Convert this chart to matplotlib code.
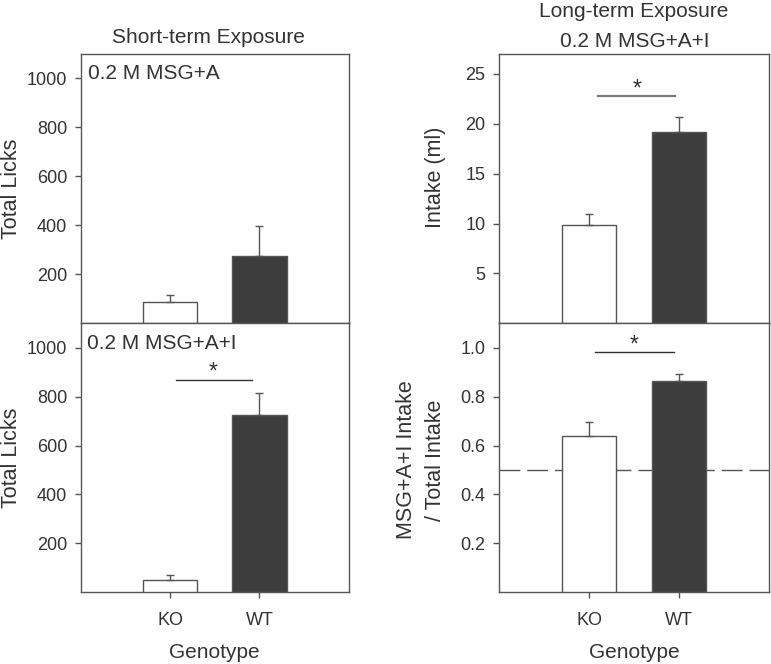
import matplotlib
matplotlib.use("Agg")
import matplotlib.pyplot as plt

# data
genotypes = ["KO", "WT"]
licks_msg_a = [87, 273]
licks_msg_a_err = [29, 124]
licks_msg_ai = [50, 725]
licks_msg_ai_err = [20, 90]
intake_ml = [9.82, 19.18]
intake_ml_err = [1.1, 1.53]
pref_ratio = [0.641, 0.865]
pref_ratio_err = [0.054, 0.026]

plt.rcParams['font.family'] = ['Liberation Sans', 'DejaVu Sans']
TXT = '#333333'
EDGE = '#555555'
bar_colors = ['white', '#3d3d3d']

W, H = 771, 664
fig = plt.figure(figsize=(W / 100, H / 100), dpi=100)


def px_axes(x0, x1, ytop, ybot):
    return fig.add_axes([x0 / W, (H - ybot) / H, (x1 - x0) / W, (ybot - ytop) / H])


ax_tl = px_axes(81, 348.7, 54, 323.3)
ax_bl = px_axes(81, 348.7, 323.3, 592.3)
ax_tr = px_axes(499.3, 768.7, 54, 323.3)
ax_br = px_axes(499.3, 768.7, 323.3, 592.3)

xpos = [1, 2]


def draw_bars(ax, vals, errs, ymax, yticks, ytl, bottom):
    ax.bar(xpos, vals, width=0.61, color=bar_colors, edgecolor=EDGE, linewidth=1.0, zorder=3)
    ax.errorbar(xpos, vals, yerr=[[0, 0], errs], fmt='none', ecolor=EDGE,
                elinewidth=1.0, capsize=3, capthick=1.0, zorder=4)
    ax.set_xlim(0, 3)
    ax.set_ylim(0, ymax)
    ax.set_yticks(yticks)
    ax.set_yticklabels(ytl)
    for s in ax.spines.values():
        s.set_color(EDGE)
        s.set_linewidth(1.0)
    ax.tick_params(axis='y', direction='out', length=4, width=1, color=EDGE,
                   labelsize=13, labelcolor=TXT, pad=6)
    if bottom:
        ax.set_xticks(xpos)
        ax.set_xticklabels(genotypes)
        ax.tick_params(axis='x', direction='out', length=4, width=1, color=EDGE,
                       labelsize=13, labelcolor=TXT, pad=10)
    else:
        ax.set_xticks([])


draw_bars(ax_tl, licks_msg_a, licks_msg_a_err, 1100,
          [200, 400, 600, 800, 1000], ['200', '400', '600', '800', '1000'], False)
draw_bars(ax_bl, licks_msg_ai, licks_msg_ai_err, 1100,
          [200, 400, 600, 800, 1000], ['200', '400', '600', '800', '1000'], True)
draw_bars(ax_tr, intake_ml, intake_ml_err, 27,
          [5, 10, 15, 20, 25], ['5', '10', '15', '20', '25'], False)
draw_bars(ax_br, pref_ratio, pref_ratio_err, 1.1,
          [0.2, 0.4, 0.6, 0.8, 1.0], ['0.2', '0.4', '0.6', '0.8', '1.0'], True)

# 50% line
ax_br.axhline(0.5, color=EDGE, linewidth=1.0, dashes=(15, 5), zorder=1)

# significance bars
ax_bl.plot([1.06, 1.92], [870, 870], color='#333333', lw=1.0)
ax_bl.text(1.48, 873, '*', ha='center', va='baseline', fontsize=16.5, color=TXT)
ax_tr.plot([1.10, 1.96], [22.8, 22.8], color='#7a7a7a', lw=1.6)
ax_tr.text(1.53, 22.87, '*', ha='center', va='baseline', fontsize=16.5, color=TXT)
ax_br.plot([1.07, 1.94], [0.981, 0.981], color='#333333', lw=1.0)
ax_br.text(1.5, 0.983, '*', ha='center', va='baseline', fontsize=16.5, color=TXT)

# panel labels
ax_tl.text(0.026, 0.907, '0.2 M MSG+A', transform=ax_tl.transAxes,
           ha='left', va='baseline', fontsize=15, color=TXT)
ax_bl.text(0.024, 0.903, '0.2 M MSG+A+I', transform=ax_bl.transAxes,
           ha='left', va='baseline', fontsize=15, color=TXT)


def ftext(xp, yp, s, **kw):
    fig.text(xp / W, (H - yp) / H, s, color=TXT, **kw)


# titles
ftext(208, 43, 'Short-term Exposure', ha='center', va='baseline', fontsize=15)
ftext(634, 17.3, 'Long-term Exposure', ha='center', va='baseline', fontsize=15)
ftext(635, 46.7, '0.2 M MSG+A+I', ha='center', va='baseline', fontsize=15)

# y labels
ftext(12, 188.5, 'Total Licks', ha='center', va='center', rotation=90, fontsize=15.5)
ftext(12, 457.5, 'Total Licks', ha='center', va='center', rotation=90, fontsize=15.5)
ftext(436, 177.5, 'Intake (ml)', ha='center', va='center', rotation=90, fontsize=15.5)
ftext(421, 460, 'MSG+A+I Intake\n/ Total Intake', ha='center', va='center',
      rotation=90, fontsize=15.5, linespacing=1.45, multialignment='center')

# x labels
ftext(214.7, 658, 'Genotype', ha='center', va='baseline', fontsize=15)
ftext(634, 658, 'Genotype', ha='center', va='baseline', fontsize=15)

fig.savefig('out.png', dpi=100)
